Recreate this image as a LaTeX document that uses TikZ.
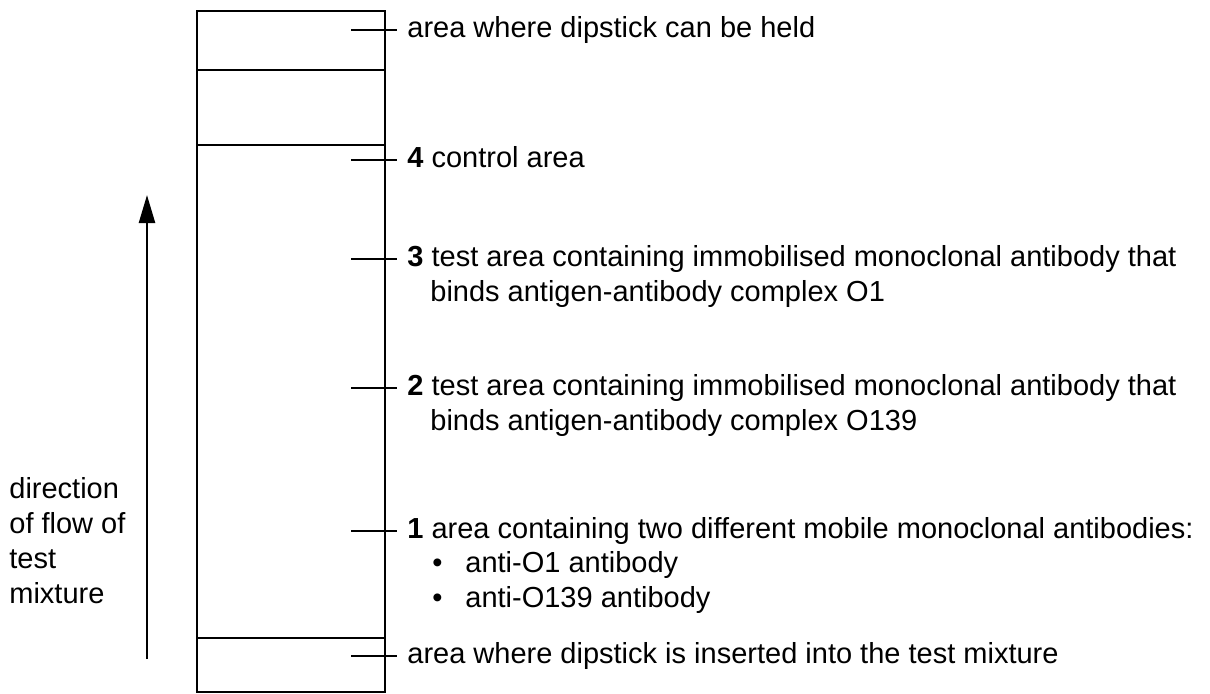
\documentclass[tikz,border=0pt]{standalone}
\usepackage{fontspec}
\setmainfont{Liberation Sans}
\usetikzlibrary{arrows.meta}
\usetikzlibrary{positioning}

\tikzset{
	lbl/.style={font=\fontsize{14.5}{17.5}\selectfont, inner sep=0pt, anchor=west, text height=10.9pt, text depth=3.6pt},
	lead/.style={line width=0.6pt, shorten >=5pt},
	strip/.style={line width=1.2pt},
}

\begin{document}
\begin{tikzpicture}[x=0.5pt, y=-0.5pt]
	\useasboundingbox (0,0) rectangle (1210,693);

	% the dipstick
	\draw[strip]
		(197,11) rectangle (385,692);
	\draw[strip]
		(197,70) -- (385,70);
	\draw[strip]
		(197,145) -- (385,145);
	\draw[strip]
		(197,638) -- (385,638);

	% labels
	\node[lbl] (held) at (407,30)
		{area where dipstick can be held};
	\node[lbl] (ctrl) at (407,160)
		{\textbf{4} control area};
	\node[lbl] (testa) at (407,259)
		{\textbf{3} test area containing immobilised monoclonal antibody that};
	\node[lbl] (testa2) at ([xshift=11.5pt, yshift=-17.5pt]testa.west)
		{binds antigen-antibody complex O1};
	\node[lbl] (testb) at (407,388)
		{\textbf{2} test area containing immobilised monoclonal antibody that};
	\node[lbl] (testb2) at ([xshift=11.5pt, yshift=-17.5pt]testb.west)
		{binds antigen-antibody complex O139};
	\node[lbl] (mobile) at (407,531)
		{\textbf{1} area containing two different mobile monoclonal antibodies:};
	\node[lbl] (mobile2) at ([xshift=12.5pt, yshift=-17pt]mobile.west)
		{\makebox[16.5pt][l]{\textbullet}anti-O1 antibody};
	\node[lbl] (mobile3) at ([yshift=-17.5pt]mobile2.west)
		{\makebox[16.5pt][l]{\textbullet}anti-O139 antibody};
	\node[lbl] (dipped) at (407,656)
		{area where dipstick is inserted into the test mixture};

	% leader lines
	\coordinate (p1) at (351,30);
	\coordinate (p2) at (351,160);
	\coordinate (p3) at (351,259);
	\coordinate (p4) at (351,388);
	\coordinate (p5) at (351,531);
	\coordinate (p6) at (351,656);
	\draw[lead] (p1) -- (held.west);
	\draw[lead] (p2) -- (ctrl.west);
	\draw[lead] (p3) -- (testa.west);
	\draw[lead] (p4) -- (testb.west);
	\draw[lead] (p5) -- (mobile.west);
	\draw[lead] (p6) -- (dipped.west);

	% flow direction
	\coordinate (flowlo) at (147,659);
	\coordinate (flowhi) at (147,195);
	\draw[strip, -{Triangle[length=14pt, width=8pt]}]
		(flowlo) -- (flowhi);
	\node[font=\fontsize{14.5}{17.5}\selectfont, inner sep=0pt, align=left, anchor=north west] (flow) at (9,477)
		{direction\\of flow of\\test\\mixture};
\end{tikzpicture}
\end{document}
